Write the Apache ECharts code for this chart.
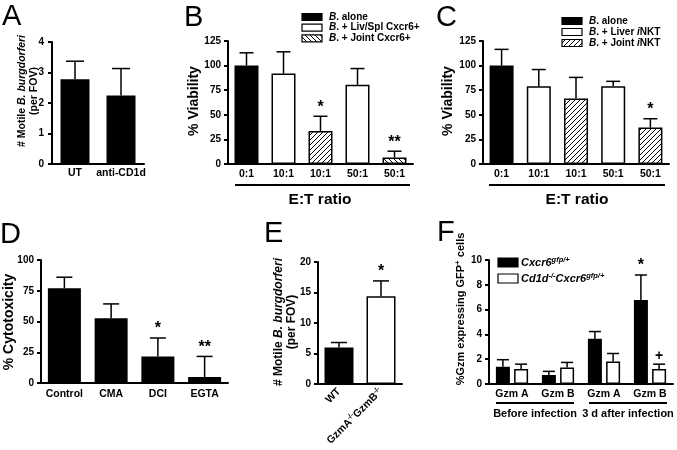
<!DOCTYPE html>
<html><head><meta charset="utf-8">
<script src="https://cdn.jsdelivr.net/npm/echarts@6/dist/echarts.min.js"></script>
<style>html,body{margin:0;padding:0;background:#fff}#c{width:677px;height:450px}</style>
</head><body><div id="c"></div>
<script>
// ---------- DATA ----------
// Panel A
const A_cats = ['UT', 'anti-CD1d'];
const A_mean = [2.78, 2.25];
const A_sem = [0.59, 0.88];
const A_ticks = [0, 1, 2, 3, 4];
// Panel B
const B_cats = ['0:1', '10:1', '10:1', '50:1', '50:1'];
const B_group = [0, 1, 2, 1, 2];
const B_mean = [100, 92, 33.5, 80.5, 6.5];
const B_sem = [13, 22, 15, 16.5, 6.5];
const B_sig = ['', '', '*', '', '**'];
const B_legend = ['B. alone', 'B. + Liv/Spl Cxcr6+', 'B. + Joint Cxcr6+'];
const B_ticks = [0, 25, 50, 75, 100, 125];
// Panel C
const C_cats = ['0:1', '10:1', '10:1', '50:1', '50:1'];
const C_group = [0, 1, 2, 1, 2];
const C_mean = [100, 79, 66.5, 79, 37];
const C_sem = [16.5, 17, 21.5, 5, 9];
const C_sig = ['', '', '', '', '*'];
const C_legend = ['B. alone', 'B. + Liver iNKT', 'B. + Joint iNKT'];
const C_ticks = [0, 25, 50, 75, 100, 125];
const BC_xtitle = 'E:T ratio';
// Panel D
const D_cats = ['Control', 'CMA', 'DCI', 'EGTA'];
const D_mean = [77, 52.7, 21.6, 4.9];
const D_sem = [9, 11.6, 15, 16.7];
const D_sig = ['', '', '*', '**'];
const D_ticks = [0, 25, 50, 75, 100];
// Panel E
const E_cats = ['WT', 'GzmA-/-GzmB-/-'];
const E_mean = [6.0, 14.4];
const E_sem = [0.8, 2.5];
const E_sig = ['', '*'];
const E_ticks = [0, 5, 10, 15, 20];
// Panel F
const F_cats = ['Gzm A', 'Gzm B', 'Gzm A', 'Gzm B'];
const F_periods = ['Before infection', '3 d after infection'];
const F_wt_mean = [1.39, 0.72, 3.64, 6.78];
const F_wt_sem = [0.57, 0.30, 0.59, 2.01];
const F_ko_mean = [1.2, 1.34, 1.82, 1.2];
const F_ko_sem = [0.4, 0.40, 0.64, 0.4];
const F_wt_sig = ['', '', '', '*'];
const F_ko_sig = ['', '', '', '+'];
const F_legend = ['Cxcr6gfp/+', 'Cd1d-/-Cxcr6gfp/+'];
const F_ticks = [0, 2, 4, 6, 8, 10];

// ---------- STYLE ----------
const FONT = '"Liberation Sans", Arial, Helvetica, sans-serif';
function hatch(dir) {
  const s = 5, c = document.createElement('canvas');
  c.width = s; c.height = s;
  const g = c.getContext('2d');
  g.fillStyle = '#fff'; g.fillRect(0, 0, s, s);
  g.strokeStyle = '#000'; g.lineWidth = 1;
  g.beginPath();
  for (let k = -1; k <= 1; k++) {
    if (dir > 0) { g.moveTo(k * s, s); g.lineTo(k * s + s, 0); }
    else { g.moveTo(k * s, 0); g.lineTo(k * s + s, s); }
  }
  g.stroke();
  return { image: c, repeat: 'repeat' };
}
const HF = hatch(1), HB = hatch(-1);
const groupFill = ['#000', '#fff', HF];
const B_fill = ['#000', '#fff', HF, '#fff', HB];
const C_fill = ['#000', '#fff', HF, '#fff', HF];

const grids = [
  { left: 52, top: 42, width: 92, height: 122 },   // A
  { left: 228, top: 41, width: 185, height: 123 }, // B
  { left: 483, top: 41, width: 186, height: 123 }, // C
  { left: 41, top: 260, width: 187, height: 123 }, // D
  { left: 318, top: 262, width: 84, height: 122 }, // E
  { left: 489, top: 260, width: 184, height: 124 } // F
];

function yAx(gi, ticks, margin) {
  return {
    type: 'value', gridIndex: gi, min: ticks[0], max: ticks[ticks.length - 1],
    interval: ticks[1] - ticks[0],
    axisLine: { show: true, lineStyle: { color: '#000', width: 2 } },
    axisTick: { show: true, length: 4, lineStyle: { color: '#000', width: 2 } },
    axisLabel: { color: '#000', fontWeight: 'bold', fontSize: 10, fontFamily: FONT, margin: margin || 7 },
    splitLine: { show: false }
  };
}
function xAx(gi, data, margin, extra) {
  return Object.assign({
    type: 'category', gridIndex: gi, data: data,
    axisLine: { show: true, lineStyle: { color: '#000', width: 2 } },
    axisTick: { show: false },
    axisLabel: { color: '#000', fontWeight: 'bold', fontSize: 10.5, fontFamily: FONT, margin: margin, interval: 0 }
  }, extra || {});
}
function bars(gi, vals, fills, width, extra) {
  return Object.assign({
    type: 'bar', xAxisIndex: gi, yAxisIndex: gi, barWidth: width, silent: true,
    data: vals.map((v, i) => ({ value: v, itemStyle: { color: fills[i] } })),
    itemStyle: { borderColor: '#000', borderWidth: 1.5 }
  }, extra || {});
}
function errs(gi, mean, sem, sig, offset, half, sigDy) {
  return {
    type: 'custom', xAxisIndex: gi, yAxisIndex: gi, z: 5, silent: true,
    data: mean.map((m, i) => [i, m, m + sem[i]]),
    encode: { x: 0, y: [1, 2] },
    renderItem: function (params, api) {
      const i = params.dataIndex;
      const p0 = api.coord([api.value(0), api.value(1)]);
      const p1 = api.coord([api.value(0), api.value(2)]);
      const x = p0[0] + offset;
      const st = { stroke: '#000', lineWidth: 1.5 };
      const ch = [
        { type: 'line', shape: { x1: x, y1: p0[1], x2: x, y2: p1[1] }, style: st },
        { type: 'line', shape: { x1: x - half, y1: p1[1], x2: x + half, y2: p1[1] }, style: st }
      ];
      if (sig && sig[i]) {
        const plus = sig[i] === '+';
        ch.push({ type: 'text', x: x, y: p1[1] - (plus ? 8 : (sigDy || 1)),
          style: { text: sig[i], font: 'bold ' + (plus ? 14 : 16) + 'px ' + FONT, fill: '#000',
            align: 'center', verticalAlign: plus ? 'middle' : 'bottom',
            textAlign: 'center', textVerticalAlign: plus ? 'middle' : 'bottom' } });
      }
      return { type: 'group', children: ch };
    }
  };
}

// ---------- graphic helpers ----------
const G = [];
function txt(x, y, text, font, opts) {
  const o = Object.assign({ align: 'center', va: 'middle', rot: 0, rich: null }, opts || {});
  const st = { text: text, font: font, fill: '#000', align: o.align, verticalAlign: o.va,
    textAlign: o.align, textVerticalAlign: o.va };
  if (o.rich) st.rich = o.rich;
  G.push({ type: 'text', x: x, y: y, rotation: o.rot, silent: true, style: st });
}
function hline(x1, x2, y) {
  G.push({ type: 'line', silent: true, shape: { x1: x1, y1: y, x2: x2, y2: y }, style: { stroke: '#000', lineWidth: 2 } });
}
function box(x, y, w, h, fill) {
  G.push({ type: 'rect', silent: true, shape: { x: x, y: y, width: w, height: h }, style: { fill: fill, stroke: '#000', lineWidth: 1.2 } });
}
const LETTER = 'normal 29px ' + FONT;
txt(2, 2, 'A', LETTER, { align: 'left', va: 'top' });
txt(184, 3, 'B', LETTER, { align: 'left', va: 'top' });
txt(436, 3, 'C', LETTER, { align: 'left', va: 'top' });
txt(0, 220, 'D', LETTER, { align: 'left', va: 'top' });
txt(264, 219, 'E', LETTER, { align: 'left', va: 'top' });
txt(437, 218, 'F', LETTER, { align: 'left', va: 'top' });

// rich helper: italic "B." prefix, italic lowercase i in iNKT
function legendRich(s) {
  let r = s.replace(/^B\./, '{i|B}{n|.').replace(/ iNKT/, '}{n| }{i|i}{n|NKT');
  if (!r.endsWith('}')) r += '}';
  return r;
}
const LRICH = {
  n: { fontSize: 10, fontWeight: 'bold', fontFamily: FONT, fill: '#000' },
  i: { fontSize: 10, fontWeight: 'bold', fontStyle: 'italic', fontFamily: FONT, fill: '#000' }
};
// B legend
B_legend.forEach((s, k) => {
  const y = 17 + k * 10.7;
  box(302, y - 3.5, 20, 7, k === 2 ? HB : groupFill[k]);
  txt(329, y, legendRich(s), 'bold 10px ' + FONT, { align: 'left', rich: LRICH });
});
// C legend
C_legend.forEach((s, k) => {
  const y = 21 + k * 11;
  box(562, y - 3.5, 20, 7, groupFill[k]);
  txt(589, y, legendRich(s), 'bold 10px ' + FONT, { align: 'left', rich: LRICH });
});
// B / C group line + x title
hline(235, 410, 185);
hline(489, 665, 185);
txt(320, 200, BC_xtitle, 'bold 15.5px ' + FONT);
txt(577, 200, BC_xtitle, 'bold 15.5px ' + FONT);
// F group lines
hline(496, 574, 403);
hline(589, 667, 403);
txt(535, 414, F_periods[0], 'bold 11px ' + FONT);
txt(628, 414, F_periods[1], 'bold 11px ' + FONT);
// F legend
const FRICH = {
  i: { fontSize: 11, fontStyle: 'italic', fontWeight: 'bold', fontFamily: FONT, fill: '#000' },
  s: { fontSize: 7.5, fontStyle: 'italic', fontWeight: 'bold', fontFamily: FONT, fill: '#000', verticalAlign: 'top', lineHeight: 14 }
};
function supRich(s) {
  return s.replace(/(gfp\/\+|-\/-)/g, '}{s|$1}{i|').replace(/^/, '{i|') + '}';
}
box(498, 258, 20, 9, '#000');
box(498, 274, 20, 9, '#fff');
txt(521, 262.5, supRich(F_legend[0]).replace(/\{i\|\}/g, ''), 'bold 11px ' + FONT, { align: 'left', rich: FRICH });
txt(521, 278.5, supRich(F_legend[1]).replace(/\{i\|\}/g, ''), 'bold 11px ' + FONT, { align: 'left', rich: FRICH });

// Y titles
const YRICH = (fs) => ({
  n: { fontSize: fs, fontWeight: 'bold', fontFamily: FONT, fill: '#000', lineHeight: fs + 1 },
  i: { fontSize: fs, fontWeight: 'bold', fontStyle: 'italic', fontFamily: FONT, fill: '#000', lineHeight: fs + 1 }
});
const motile = '{n|# Motile }{i|B. burgdorferi}\n{n|(per FOV)}';
txt(28, 91, motile, 'bold 10.5px ' + FONT, { rot: Math.PI / 2, rich: YRICH(10.5) });
txt(285, 322, motile, 'bold 12px ' + FONT, { rot: Math.PI / 2, rich: YRICH(12) });
txt(194, 101, '% Viability', 'bold 14px ' + FONT, { rot: Math.PI / 2 });
txt(448, 101, '% Viability', 'bold 14px ' + FONT, { rot: Math.PI / 2 });
txt(9, 322, '% Cytotoxicity', 'bold 14px ' + FONT, { rot: Math.PI / 2 });
txt(461, 309, '{n|%Gzm expressing GFP}{s|+}{n| cells}', 'bold 11px ' + FONT, {
  rot: Math.PI / 2,
  rich: {
    n: { fontSize: 11, fontWeight: 'bold', fontFamily: FONT, fill: '#000', lineHeight: 14 },
    s: { fontSize: 8, fontWeight: 'bold', fontFamily: FONT, fill: '#000', verticalAlign: 'top', lineHeight: 14 }
  }
});

// ---------- OPTION ----------
const option = {
  animation: false,
  backgroundColor: '#fff',
  grid: grids,
  xAxis: [
    xAx(0, A_cats, 4),
    xAx(1, B_cats, 5),
    xAx(2, C_cats, 5),
    xAx(3, D_cats, 6),
    xAx(4, E_cats, 5, {
      axisLabel: {
        color: '#000', fontWeight: 'bold', fontSize: 10.5, fontFamily: FONT, margin: 6, interval: 0, rotate: 45,
        formatter: (v) => '{n|' + v.replace(/-\/-/g, '}{s|-/-}{n|') + '}',
        rich: {
          n: { fontSize: 10.5, fontWeight: 'bold', fontFamily: FONT, color: '#000', lineHeight: 13 },
          s: { fontSize: 7, fontWeight: 'bold', fontFamily: FONT, color: '#000', verticalAlign: 'top', lineHeight: 13 }
        }
      }
    }),
    xAx(5, F_cats, 5)
  ],
  yAxis: [yAx(0, A_ticks, 8), yAx(1, B_ticks), yAx(2, C_ticks), yAx(3, D_ticks), yAx(4, E_ticks), yAx(5, F_ticks)],
  series: [
    bars(0, A_mean, A_mean.map(() => '#000'), 29),
    errs(0, A_mean, A_sem, null, 0, 9),
    bars(1, B_mean, B_fill, 24),
    errs(1, B_mean, B_sem, B_sig, 0, 7),
    bars(2, C_mean, C_fill, 24),
    errs(2, C_mean, C_sem, C_sig, 0, 7),
    bars(3, D_mean, D_mean.map(() => '#000'), 33),
    errs(3, D_mean, D_sem, D_sig, 0, 8),
    bars(4, E_mean, ['#000', '#fff'], 29),
    errs(4, E_mean, E_sem, E_sig, 0, 8),
    bars(5, F_wt_mean, F_wt_mean.map(() => '#000'), 14, { barGap: '30%' }),
    bars(5, F_ko_mean, F_ko_mean.map(() => '#fff'), 14, { barGap: '30%' }),
    errs(5, F_wt_mean, F_wt_sem, F_wt_sig, -9.1, 6),
    errs(5, F_ko_mean, F_ko_sem, F_ko_sig, 9.1, 6)
  ],
  graphic: { elements: G }
};
const chart = echarts.init(document.getElementById('c'), null, { renderer: 'canvas' });
chart.setOption(option);
</script>
</body></html>
